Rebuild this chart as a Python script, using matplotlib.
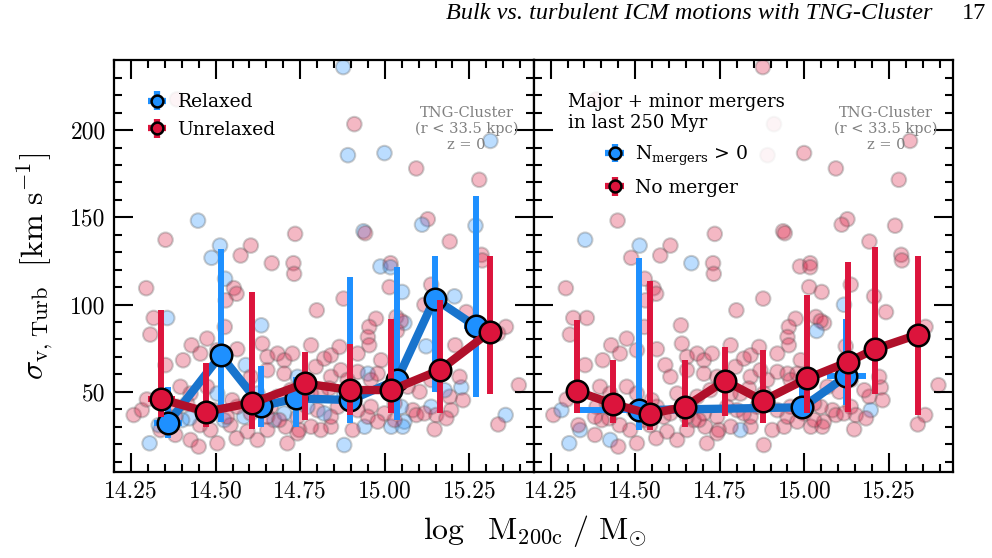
"""Turbulent velocity dispersion vs halo mass, relaxed/unrelaxed and merger split."""
import numpy as np
import matplotlib
matplotlib.use('Agg')
import matplotlib.pyplot as plt
from matplotlib.font_manager import FontProperties

plt.rcParams['mathtext.fontset'] = 'dejavuserif'

# individual clusters: log M200c, sigma_turb [km/s], relaxed flag, merger (last 250 Myr) flag
mass = [14.877, 14.386, 14.910, 15.312, 14.891, 14.999, 15.093, 15.279, 14.448, 15.127,
        15.110, 14.352, 14.937, 14.942, 14.735, 15.192, 15.268, 14.513, 14.604, 14.488,
        14.574, 14.666, 14.730, 14.732, 15.286, 15.288, 14.987, 15.017, 15.017, 14.528,
        14.554, 14.562, 14.295, 15.014, 15.051, 15.137, 15.206, 14.878, 14.530, 14.799,
        15.241, 15.358, 15.335, 14.317, 14.357, 14.307, 14.635, 14.527, 14.429, 14.475,
        14.564, 14.638, 14.974, 14.954, 14.950, 14.954, 14.920, 15.034, 15.058, 15.048,
        15.122, 15.208, 15.226, 15.221, 15.192, 15.196, 15.357, 15.335, 15.396, 15.147,
        15.137, 15.152, 15.182, 15.068, 15.103, 15.083, 15.093, 15.048, 15.058, 15.019,
        15.053, 15.029, 14.880, 14.940, 14.905, 14.841, 14.811, 14.782, 14.747, 14.707,
        14.712, 14.742, 14.673, 14.653, 14.624, 14.594, 14.562, 14.544, 14.525, 14.505,
        14.485, 14.454, 14.426, 14.450, 14.423, 14.386, 14.396, 14.381, 14.337, 14.332,
        14.305, 14.258, 14.282, 14.297, 14.352, 14.404, 14.455, 14.505, 14.589, 14.604,
        14.653, 14.653, 14.683, 14.703, 14.727, 14.703, 14.742, 14.722, 14.782, 14.796,
        14.821, 14.841, 14.866, 14.841, 14.870, 14.890, 14.920, 14.950, 14.959, 14.989,
        14.979, 14.811, 14.836, 14.782, 14.801, 14.861, 14.841, 14.959, 14.950, 14.920,
        14.999, 14.979, 15.029, 14.663, 14.683, 14.653, 14.584, 14.604, 14.564, 14.534,
        14.495, 14.416, 14.426, 14.475, 14.505, 14.549, 14.401, 14.381, 14.771, 14.742,
        14.703, 14.688, 14.624, 14.821, 14.880, 15.117, 15.177, 15.137, 15.231, 15.036,
        15.117]
sigma = [236.1, 217.6, 203.4, 193.8, 185.6, 186.8, 178.0, 171.5, 148.1, 148.9,
         145.8, 137.1, 142.0, 140.9, 140.5, 136.1, 145.2, 133.8, 133.8, 126.8,
         128.1, 123.7, 123.7, 117.6, 128.5, 125.3, 121.8, 123.7, 121.4, 114.8,
         109.4, 106.2, 109.4, 110.0, 107.2, 111.4, 104.7, 103.4, 102.4, 96.7,
         95.7, 87.2, 83.4, 92.3, 92.3, 82.8, 88.1, 87.2, 76.7, 80.5,
         74.4, 77.6, 91.9, 87.2, 81.4, 76.7, 71.9, 92.9, 89.4, 90.6,
         76.1, 76.7, 52.5, 58.6, 47.2, 39.5, 36.7, 31.3, 53.8, 28.5,
         41.4, 36.7, 34.8, 52.9, 50.0, 39.5, 36.7, 41.4, 32.9, 30.0,
         30.0, 33.8, 19.5, 30.0, 28.1, 30.0, 28.1, 30.0, 28.1, 30.0,
         20.5, 26.2, 33.8, 28.1, 22.4, 27.2, 23.4, 30.9, 33.8, 20.5,
         28.1, 30.9, 22.4, 18.6, 34.8, 41.4, 52.9, 25.3, 28.1, 30.9,
         20.5, 36.7, 39.5, 45.6, 65.3, 68.1, 71.9, 73.8, 65.3, 58.6,
         70.0, 62.4, 71.9, 68.1, 71.9, 60.4, 58.6, 51.0, 76.7, 64.3,
         69.0, 70.9, 75.7, 58.6, 62.4, 56.8, 61.4, 60.4, 56.8, 68.1,
         60.4, 49.0, 51.9, 49.0, 39.5, 41.4, 35.7, 41.4, 35.7, 39.5,
         37.6, 32.9, 43.3, 41.4, 47.2, 35.7, 35.7, 37.6, 41.4, 35.7,
         39.5, 43.3, 49.0, 52.9, 49.0, 45.2, 33.8, 35.7, 41.4, 35.7,
         37.6, 33.8, 49.0, 37.6, 49.0, 37.6, 50.9, 56.8, 45.2, 84.9,
         99.9]
relaxed = [1, 0, 0, 1, 1, 1, 0, 0, 1, 0,
           1, 0, 1, 0, 0, 0, 1, 1, 0, 1,
           0, 0, 0, 0, 0, 0, 1, 0, 1, 1,
           0, 0, 0, 0, 1, 0, 1, 0, 0, 0,
           0, 0, 0, 0, 1, 0, 1, 0, 0, 0,
           0, 0, 0, 0, 0, 0, 0, 0, 1, 0,
           1, 0, 1, 0, 0, 0, 1, 0, 0, 0,
           1, 0, 0, 0, 0, 0, 0, 1, 1, 1,
           1, 0, 1, 1, 0, 0, 0, 0, 0, 0,
           0, 0, 1, 0, 0, 0, 0, 0, 1, 0,
           0, 0, 0, 0, 1, 0, 0, 0, 0, 1,
           1, 0, 0, 0, 0, 0, 0, 0, 1, 0,
           0, 0, 0, 0, 0, 0, 1, 0, 0, 0,
           0, 0, 0, 0, 0, 0, 0, 1, 0, 0,
           0, 0, 0, 0, 0, 0, 0, 0, 0, 0,
           0, 0, 0, 0, 0, 0, 1, 0, 0, 0,
           0, 0, 0, 0, 1, 0, 1, 0, 1, 0,
           1, 0, 1, 1, 1, 0, 1, 0, 0, 0,
           0]
merger = [0, 0, 0, 0, 0, 0, 0, 0, 0, 0,
          0, 1, 0, 0, 0, 0, 0, 1, 0, 0,
          0, 1, 0, 0, 0, 0, 0, 0, 0, 0,
          0, 0, 0, 0, 0, 0, 0, 0, 0, 0,
          0, 0, 0, 0, 0, 0, 0, 0, 0, 0,
          0, 0, 0, 0, 0, 0, 0, 0, 0, 0,
          0, 1, 0, 0, 0, 1, 0, 0, 0, 0,
          0, 0, 0, 0, 0, 0, 0, 0, 0, 0,
          0, 0, 0, 0, 0, 0, 1, 0, 0, 0,
          0, 0, 0, 0, 0, 0, 0, 0, 0, 0,
          0, 0, 1, 0, 0, 0, 0, 0, 1, 0,
          1, 0, 1, 0, 0, 0, 0, 0, 0, 0,
          0, 0, 0, 0, 0, 0, 0, 0, 0, 0,
          0, 0, 0, 0, 0, 0, 0, 0, 0, 0,
          0, 0, 0, 0, 0, 0, 0, 0, 0, 0,
          0, 0, 0, 0, 0, 0, 0, 0, 0, 0,
          0, 0, 0, 0, 0, 0, 0, 0, 0, 0,
          0, 0, 0, 0, 0, 0, 0, 0, 0, 1,
          1]

# binned medians (left: relaxed / unrelaxed)
rel_x = [14.360, 14.515, 14.635, 14.739, 14.898, 15.036, 15.147, 15.269]
rel_y = [32.3, 71.0, 41.8, 46.2, 45.3, 56.7, 103.4, 87.5]
rel_lo = [23.4, 32.9, 30.0, 30.0, 32.0, 33.8, 50.0, 46.8]
rel_hi = [52.9, 132.0, 64.7, 58.6, 115.7, 121.4, 128.0, 162.4]
rel_xerr = [0.042, 0.026, 0.012, 0.012, 0.006, 0.010, 0.012, 0.035]

unr_x = [14.339, 14.472, 14.609, 14.764, 14.898, 15.019, 15.162, 15.310]
unr_y = [45.8, 38.6, 43.7, 54.8, 51.0, 51.0, 62.4, 84.3]
unr_lo = [35.7, 30.0, 28.5, 33.8, 36.7, 38.0, 38.0, 49.0]
unr_hi = [97.0, 66.6, 107.3, 72.9, 77.6, 92.0, 102.4, 127.6]
unr_xerr = [0.040, 0.012, 0.015, 0.012, 0.010, 0.012, 0.020, 0.030]

# binned medians (right: mergers / no merger)
mrg_x = [14.511, 14.994, 15.124]
mrg_y = [39.5, 41.1, 59.0]
mrg_lo = [28.1, 38.0, 42.4]
mrg_hi = [126.7, 53.8, 92.0]
mrg_xerr = [0.182, 0.012, 0.058]

nom_x = [14.327, 14.435, 14.543, 14.647, 14.765, 14.877, 15.009, 15.129, 15.210, 15.335]
nom_y = [50.4, 43.0, 37.3, 41.4, 56.3, 44.9, 57.7, 67.1, 74.6, 82.8]
nom_lo = [37.7, 32.3, 28.1, 29.6, 36.1, 32.3, 38.0, 38.6, 49.0, 36.7]
nom_hi = [91.4, 68.1, 113.3, 68.1, 75.4, 74.2, 105.7, 124.3, 132.9, 127.6]
nom_xerr = [0.027, 0.010, 0.010, 0.012, 0.010, 0.010, 0.010, 0.030, 0.035, 0.020]

BLUE, BLUE_LINE = '#1E90FF', '#1874CD'
RED, RED_LINE = '#DC143C', '#B0102A'

fig = plt.figure(figsize=(9.92, 5.58), dpi=100)
ax1 = fig.add_axes([0.115, 0.154, 0.423, 0.738])
ax2 = fig.add_axes([0.538, 0.154, 0.423, 0.738])

mass = np.array(mass)
sigma = np.array(sigma)
relaxed = np.array(relaxed)
merger = np.array(merger)


def binned(ax, x, y, lo, hi, xerr, col, lcol, label, z):
    y = np.array(y)
    yerr = [y - np.array(lo), np.array(hi) - y]
    ax.errorbar(x, y, yerr=yerr, xerr=xerr, fmt='none', ecolor=col, elinewidth=4.3,
                capsize=0, zorder=z)
    ax.plot(x, y, '-', color=lcol, lw=6, zorder=z + 1, solid_capstyle='round')
    ax.plot(x, y, 'o', ms=15.5, mfc=col, mec='k', mew=1.8, zorder=z + 2)
    # legend proxy
    return ax.errorbar([np.nan], [np.nan], yerr=[1], xerr=[1], fmt='o', ms=8.5, mfc=col,
                       mec='k', mew=1.8, ecolor=col, elinewidth=4.5, capsize=0, label=label)


# left panel
cols = np.where(relaxed == 1, BLUE, RED)
ax1.scatter(mass, sigma, s=110, c=cols, edgecolors='0.35', linewidths=1.5, alpha=0.3, zorder=1)
h1 = binned(ax1, rel_x, rel_y, rel_lo, rel_hi, rel_xerr, BLUE, BLUE_LINE, 'Relaxed', 2)
h2 = binned(ax1, unr_x, unr_y, unr_lo, unr_hi, unr_xerr, RED, RED_LINE, 'Unrelaxed', 6)

# right panel
cols = np.where(merger == 1, BLUE, RED)
ax2.scatter(mass, sigma, s=110, c=cols, edgecolors='0.35', linewidths=1.5, alpha=0.3, zorder=1)
h3 = binned(ax2, mrg_x, mrg_y, mrg_lo, mrg_hi, mrg_xerr, BLUE, BLUE_LINE,
            r'N$_{\rm mergers}$ > 0', 2)
h4 = binned(ax2, nom_x, nom_y, nom_lo, nom_hi, nom_xerr, RED, RED_LINE, 'No merger', 6)

lfont = FontProperties(family='DejaVu Serif', size=13.5, math_fontfamily='dejavuserif')
leg1 = ax1.legend(handles=[h1, h2], loc='upper left', bbox_to_anchor=(0.035, 0.965), prop=lfont,
                  frameon=True, framealpha=0.85, edgecolor='none', handlelength=1.0,
                  handletextpad=0.6, labelspacing=0.5, borderaxespad=0.6)
leg2 = ax2.legend(handles=[h3, h4], loc='upper left', bbox_to_anchor=(0.038, 0.965), prop=lfont,
                  title='Major + minor mergers\nin last 250 Myr',
                  title_fontproperties=FontProperties(family='DejaVu Serif', size=13),
                  frameon=True, framealpha=0.85, edgecolor='none', handlelength=1.0,
                  handletextpad=0.6, labelspacing=0.6, borderaxespad=0.6)
leg2.get_title().set_multialignment('left')
for leg in (leg1, leg2):
    leg.set_zorder(20)

for ax in (ax1, ax2):
    ax.set_xlim(14.20, 15.44)
    ax.set_ylim(4, 240)
    ax.set_xticks([14.25, 14.50, 14.75, 15.00, 15.25])
    ax.set_xticklabels(['14.25', '14.50', '14.75', '15.00', '15.25'])
    ax.set_yticks([50, 100, 150, 200])
    ax.set_xticks(np.arange(14.20, 15.44, 0.05), minor=True)
    ax.set_yticks(np.arange(10, 240, 10), minor=True)
    ax.tick_params(which='both', direction='in', top=True, right=True, width=1.5)
    ax.tick_params(which='major', length=14, labelsize=17, pad=6)
    ax.tick_params(which='minor', length=6)
    for lab in ax.get_xticklabels() + ax.get_yticklabels():
        lab.set_family('cmr10')
    for sp in ax.spines.values():
        sp.set_linewidth(1.6)
    ax.text(0.84, 0.89, 'TNG-Cluster\n(r < 33.5 kpc)\nz = 0', transform=ax.transAxes,
            ha='center', va='top', color='grey', fontsize=10.5, family='DejaVu Serif',
            zorder=25)

ax2.tick_params(labelleft=False)

ax1.set_ylabel(r'$\sigma_{\rm v,\,Turb}\ \ [\rm km\ s^{-1}]$', fontsize=23,
               math_fontfamily='cm', labelpad=10)
fig.text(0.539, 0.048, r'$\log\ \ \rm M_{200c}\ /\ M_{\odot}$', ha='center', va='center',
         fontsize=23, math_fontfamily='cm')

fig.text(0.94, 0.975, 'Bulk vs. turbulent ICM motions with TNG-Cluster', ha='right',
         va='center', fontsize=17.5, family='Liberation Serif', style='italic')
fig.text(0.982, 0.975, '17', ha='center', va='center', fontsize=17.5, family='Liberation Serif')

fig.savefig('out.png', dpi=100)
